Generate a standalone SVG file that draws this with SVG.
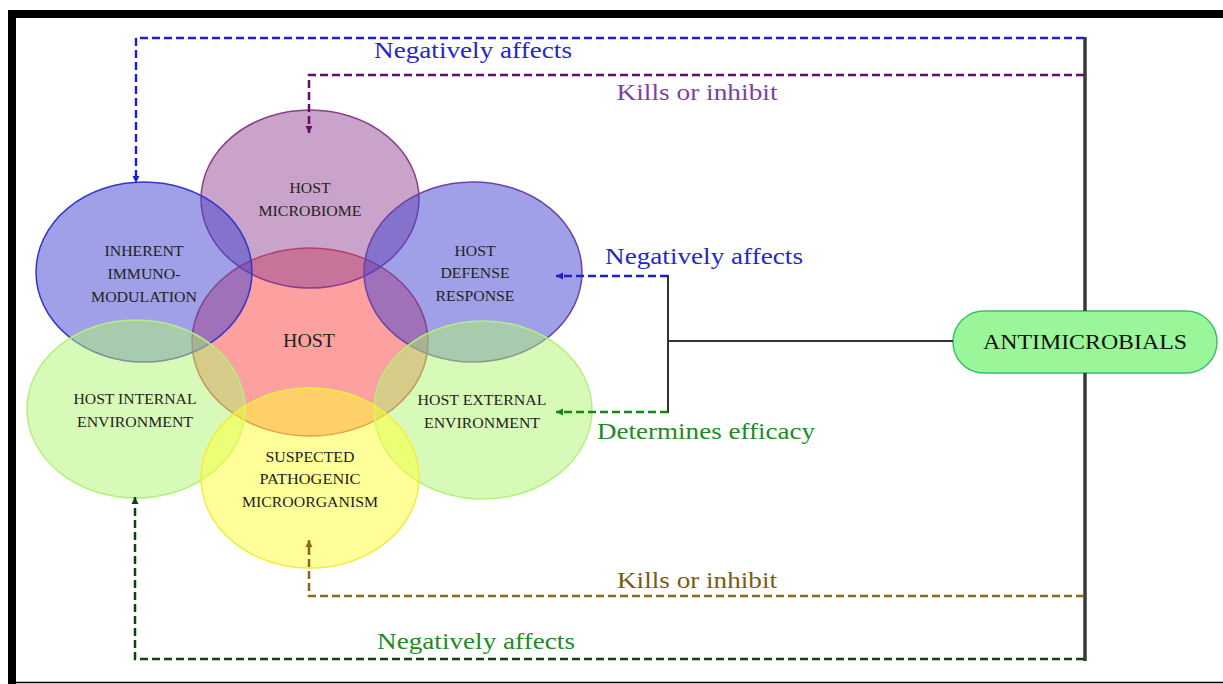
<svg xmlns="http://www.w3.org/2000/svg" width="1223" height="684" viewBox="0 0 1223 684">
<style>
.n{font-family:"Liberation Serif","Times New Roman",serif;font-size:14px;fill:#222;text-anchor:middle}
.big{font-size:18px}
.lb{font-family:"Liberation Serif","Times New Roman",serif;font-size:23px;text-anchor:middle}
.d{fill:none;stroke-width:2.5;stroke-dasharray:8 4}
.k{fill:none;stroke:#333;stroke-width:2}
.kv{fill:none;stroke:#3a3a3a;stroke-width:3.5}
</style>
<defs>
<marker id="aB" markerUnits="userSpaceOnUse" markerWidth="8" markerHeight="8" refX="7" refY="4" orient="auto"><path d="M0,0.5 L7,4 L0,7.5 z" fill="#1f1fcc"/></marker>
<marker id="aP" markerUnits="userSpaceOnUse" markerWidth="8" markerHeight="8" refX="7" refY="4" orient="auto"><path d="M0,0.5 L7,4 L0,7.5 z" fill="#6a0a6a"/></marker>
<marker id="aG" markerUnits="userSpaceOnUse" markerWidth="8" markerHeight="8" refX="7" refY="4" orient="auto"><path d="M0,0.5 L7,4 L0,7.5 z" fill="#118811"/></marker>
<marker id="aO" markerUnits="userSpaceOnUse" markerWidth="8" markerHeight="8" refX="7" refY="4" orient="auto"><path d="M0,0.5 L7,4 L0,7.5 z" fill="#8a6a18"/></marker>
<marker id="aD" markerUnits="userSpaceOnUse" markerWidth="8" markerHeight="8" refX="7" refY="4" orient="auto"><path d="M0,0.5 L7,4 L0,7.5 z" fill="#0d440d"/></marker>
</defs>
<rect x="0" y="0" width="1223" height="684" fill="#ffffff"/>
<rect x="8" y="10" width="1215" height="8" fill="#000"/>
<rect x="8" y="10" width="8" height="674" fill="#000"/>
<line x1="16" y1="682.5" x2="1223" y2="682.5" stroke="#000" stroke-width="1.5"/>

<g id="host"><ellipse cx="310" cy="342" rx="118" ry="94" fill="#f94141" fill-opacity="0.5" stroke="#c84040" stroke-width="1.5"/></g>
<g id="microbiome"><ellipse cx="310" cy="199" rx="109" ry="89" fill="#934793" fill-opacity="0.5" stroke="#8a3f8a" stroke-width="1.5"/>
<text class="n" x="310" y="193" textLength="41" lengthAdjust="spacingAndGlyphs">HOST</text>
<text class="n" x="310" y="216" textLength="103" lengthAdjust="spacingAndGlyphs">MICROBIOME</text></g>
<g id="immunomodulation"><ellipse cx="144" cy="272" rx="108" ry="90" fill="#4141d1" fill-opacity="0.5" stroke="#3535c8" stroke-width="1.5"/>
<text class="n" x="144" y="256" textLength="79" lengthAdjust="spacingAndGlyphs">INHERENT</text>
<text class="n" x="144" y="279" textLength="73" lengthAdjust="spacingAndGlyphs">IMMUNO-</text>
<text class="n" x="144" y="302" textLength="106" lengthAdjust="spacingAndGlyphs">MODULATION</text></g>
<g id="defense"><ellipse cx="473" cy="272" rx="109" ry="90" fill="#4141d1" fill-opacity="0.5" stroke="#7040a8" stroke-width="1.5"/>
<text class="n" x="475" y="256" textLength="41" lengthAdjust="spacingAndGlyphs">HOST</text>
<text class="n" x="475" y="278" textLength="69" lengthAdjust="spacingAndGlyphs">DEFENSE</text>
<text class="n" x="475" y="301" textLength="79" lengthAdjust="spacingAndGlyphs">RESPONSE</text></g>
<g id="internal"><ellipse cx="136" cy="409" rx="109" ry="89" fill="#b1f571" fill-opacity="0.5" stroke="#b4f07c" stroke-width="1.5"/>
<text class="n" x="135" y="404" textLength="123" lengthAdjust="spacingAndGlyphs">HOST INTERNAL</text>
<text class="n" x="135" y="427" textLength="116" lengthAdjust="spacingAndGlyphs">ENVIRONMENT</text></g>
<g id="external"><ellipse cx="483" cy="410" rx="109" ry="89" fill="#b1f571" fill-opacity="0.5" stroke="#b4f07c" stroke-width="1.5"/>
<text class="n" x="482" y="405" textLength="129" lengthAdjust="spacingAndGlyphs">HOST EXTERNAL</text>
<text class="n" x="482" y="428" textLength="116" lengthAdjust="spacingAndGlyphs">ENVIRONMENT</text></g>
<g id="pathogen"><ellipse cx="310" cy="478" rx="109" ry="90" fill="#ffff33" fill-opacity="0.5" stroke="#f2ec40" stroke-width="1.5"/>
<text class="n" x="310" y="462" textLength="89" lengthAdjust="spacingAndGlyphs">SUSPECTED</text>
<text class="n" x="310" y="484" textLength="101" lengthAdjust="spacingAndGlyphs">PATHOGENIC</text>
<text class="n" x="310" y="507" textLength="136" lengthAdjust="spacingAndGlyphs">MICROORGANISM</text></g>
<g id="host-label"><text class="n big" x="309" y="347" textLength="52" lengthAdjust="spacingAndGlyphs">HOST</text></g>

<g id="antimicrobials"><rect x="953" y="311" width="264" height="62" rx="31" ry="31" fill="#99f799" stroke="#3cbf6a" stroke-width="1.5"/>
<text class="n" x="1085" y="349" style="font-size:22px;fill:#111" textLength="204" lengthAdjust="spacingAndGlyphs">ANTIMICROBIALS</text></g>

<g id="connectors">
<line class="kv" x1="1085" y1="37" x2="1085" y2="311"/>
<line class="kv" x1="1085" y1="373" x2="1085" y2="661"/>
<line class="k" x1="953" y1="341" x2="668" y2="341"/>
<line class="k" x1="668" y1="275" x2="668" y2="413"/>
<path class="d" stroke="#1f1fcc" d="M1084,38 H136 V183" marker-end="url(#aB)"/>
<path class="d" stroke="#6a0a6a" d="M1084,75 H309 V133" marker-end="url(#aP)"/>
<path class="d" stroke="#1f1fcc" d="M668,276 H556" marker-end="url(#aB)"/>
<path class="d" stroke="#118811" d="M668,412 H556" marker-end="url(#aG)"/>
<path class="d" stroke="#8a6a18" d="M1084,596 H309 V540" marker-end="url(#aO)"/>
<path class="d" stroke="#0d440d" d="M1084,659 H135 V497" marker-end="url(#aD)"/>
<text class="lb" x="473" y="58" fill="#2626c8" textLength="198" lengthAdjust="spacingAndGlyphs">Negatively affects</text>
<text class="lb" x="697" y="100" fill="#8040a0" textLength="161" lengthAdjust="spacingAndGlyphs">Kills or inhibit</text>
<text class="lb" x="704" y="264" fill="#2626d0" textLength="198" lengthAdjust="spacingAndGlyphs">Negatively affects</text>
<text class="lb" x="706" y="439" fill="#1e8c1e" textLength="218" lengthAdjust="spacingAndGlyphs">Determines efficacy</text>
<text class="lb" x="697" y="588" fill="#7a5c10" textLength="160" lengthAdjust="spacingAndGlyphs">Kills or inhibit</text>
<text class="lb" x="476" y="649" fill="#228b22" textLength="198" lengthAdjust="spacingAndGlyphs">Negatively affects</text>
</g>
</svg>
